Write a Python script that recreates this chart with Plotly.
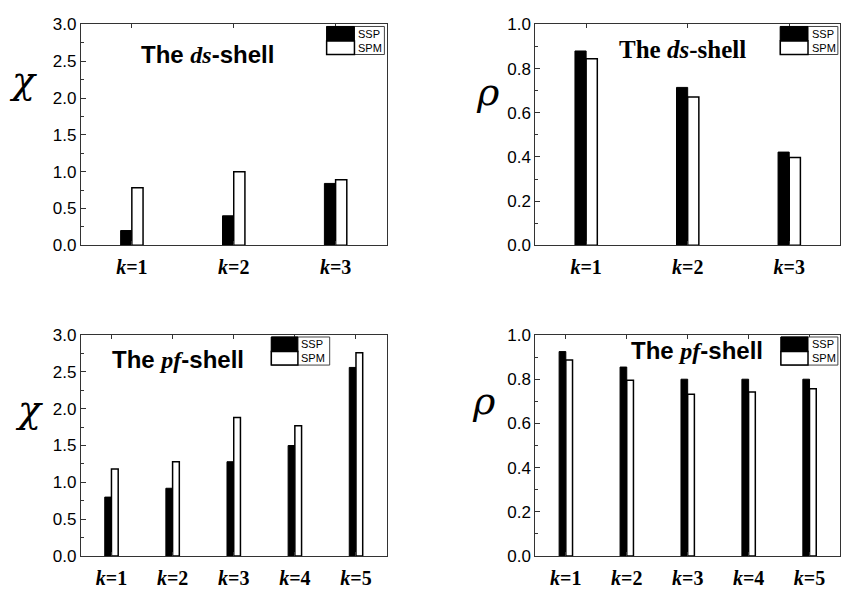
import plotly.graph_objects as go

# ---------------- data ----------------
series_names = ["SSP", "SPM"]
cats_ds = ["k=1", "k=2", "k=3"]
cats_pf = ["k=1", "k=2", "k=3", "k=4", "k=5"]
ticktext_ds = ["<b><i>k</i>=1</b>", "<b><i>k</i>=2</b>", "<b><i>k</i>=3</b>"]
ticktext_pf = ["<b><i>k</i>=1</b>", "<b><i>k</i>=2</b>", "<b><i>k</i>=3</b>",
               "<b><i>k</i>=4</b>", "<b><i>k</i>=5</b>"]

chi_ds_ssp = [0.20, 0.40, 0.84]
chi_ds_spm = [0.78, 1.00, 0.89]
rho_ds_ssp = [0.88, 0.715, 0.422]
rho_ds_spm = [0.845, 0.672, 0.398]
chi_pf_ssp = [0.80, 0.92, 1.28, 1.50, 2.56]
chi_pf_spm = [1.18, 1.28, 1.88, 1.77, 2.76]
rho_pf_ssp = [0.925, 0.855, 0.80, 0.80, 0.80]
rho_pf_spm = [0.887, 0.795, 0.732, 0.742, 0.757]

SANS = "Liberation Sans, Arial, sans-serif"
SERIF = "Liberation Serif, Times New Roman, serif"
GREEK = "DejaVu Serif, Liberation Serif, serif"
AX = "#333333"

fig = go.Figure()

panels = [
    ("", cats_ds, ticktext_ds, chi_ds_ssp, chi_ds_spm, [81/841, 387/841], [1-244/598, 1-16/598], [0, 3], 0.5, 0.25),
    ("2", cats_ds, ticktext_ds, rho_ds_ssp, rho_ds_spm, [536/841, 1.0], [1-244/598, 1-16/598], [0, 1], 0.2, 0.1),
    ("3", cats_pf, ticktext_pf, chi_pf_ssp, chi_pf_spm, [81/841, 387/841], [1-565/598, 1-336.7/598], [0, 3], 0.5, 0.25),
    ("4", cats_pf, ticktext_pf, rho_pf_ssp, rho_pf_spm, [536/841, 1.0], [1-565/598, 1-336.7/598], [0, 1], 0.2, 0.1),
]

layout = {}
for suf, cats, ttext, ssp, spm, dx, dy, yr, dt, mn in panels:
    xa = "x" + suf
    ya = "y" + suf
    fig.add_trace(go.Bar(x=cats, y=ssp, name=series_names[0], xaxis=xa, yaxis=ya,
                         marker=dict(color="black", line=dict(color="black", width=1)),
                         showlegend=False))
    fig.add_trace(go.Bar(x=cats, y=spm, name=series_names[1], xaxis=xa, yaxis=ya,
                         marker=dict(color="white", line=dict(color="black", width=1.5)),
                         showlegend=False))
    layout["xaxis" + suf] = dict(
        domain=dx, anchor=ya, type="category", categoryorder="array", categoryarray=cats,
        tickmode="array", tickvals=cats, ticktext=ttext,
        showline=True, linecolor=AX, linewidth=1, mirror="ticks",
        ticks="inside", ticklen=4, tickcolor=AX, showgrid=False, zeroline=False,
        tickfont=dict(family=SERIF, size=20, color="black"), ticklabelstandoff=4,
        fixedrange=True,
    )
    layout["yaxis" + suf] = dict(
        domain=dy, anchor=xa, range=yr, dtick=dt, tick0=0, tickformat=".1f",
        showline=True, linecolor=AX, linewidth=1, mirror=True,
        ticks="inside", ticklen=5, tickcolor=AX, showgrid=False, zeroline=False,
        minor=dict(dtick=mn, tick0=0, ticks="inside", ticklen=3, tickcolor=AX, showgrid=False),
        tickfont=dict(family=SANS, size=17, color="black"),
        fixedrange=True,
    )

fig.update_layout(**layout)

# ---------------- in-plot legends, titles, axis symbols ----------------
annotations = []
shapes = []

def add_legend(suf, x0, xs, x1, y0=0.864, ym=0.925, y1=0.991):
    xr = ("x" + suf) + " domain"
    yr_ = ("y" + suf) + " domain"
    shapes.append(dict(type="rect", xref=xr, yref=yr_, x0=x0, x1=x1, y0=y0, y1=y1,
                       line=dict(color="#444", width=1), fillcolor="white", layer="above"))
    shapes.append(dict(type="rect", xref=xr, yref=yr_, x0=x0, x1=xs, y0=ym, y1=y1,
                       line=dict(color="black", width=1), fillcolor="black", layer="above"))
    shapes.append(dict(type="rect", xref=xr, yref=yr_, x0=x0, x1=xs, y0=y0, y1=ym,
                       line=dict(color="black", width=1.5), fillcolor="white", layer="above"))
    for name, yc in zip(series_names, [(ym + y1) / 2, (y0 + ym) / 2]):
        annotations.append(dict(xref=xr, yref=yr_, x=xs + 0.005, y=yc, text=name,
                                showarrow=False, xanchor="left", yanchor="middle",
                                font=dict(family=SANS, size=11, color="black")))

add_legend("", 0.804, 0.895, 0.993)
add_legend("2", 0.804, 0.895, 0.993)
add_legend("3", 0.623, 0.710, 0.814)
add_legend("4", 0.806, 0.895, 0.993)

serif_span = "<span style='font-family:Liberation Serif, Times New Roman, serif'><i>{}</i></span>"
titles = [
    ("", 0.415, 0.864, "<b>The " + serif_span.format("ds") + "-shell</b>", SANS, 24),
    ("2", 0.484, 0.886, "<b>The <i>ds</i>-shell</b>", SERIF, 25),
    ("3", 0.317, 0.890, "<b>The " + serif_span.format("pf") + "-shell</b>", SANS, 24),
    ("4", 0.529, 0.928, "<b>The " + serif_span.format("pf") + "-shell</b>", SANS, 24),
]
for suf, x, y, txt, fam, sz in titles:
    annotations.append(dict(xref="x" + suf + " domain", yref="y" + suf + " domain", x=x, y=y,
                            text=txt, showarrow=False, xanchor="center", yanchor="middle",
                            font=dict(family=fam, size=sz, color="black")))

symbols = [
    ("", -0.19, 0.75, "χ"),
    ("2", -0.157, 0.695, "ρ"),
    ("3", -0.17, 0.665, "χ"),
    ("4", -0.167, 0.70, "ρ"),
]
for suf, x, y, s in symbols:
    annotations.append(dict(xref="x" + suf + " domain", yref="y" + suf + " domain", x=x, y=y,
                            text="<i>" + s + "</i>", showarrow=False, xanchor="center",
                            yanchor="middle", font=dict(family=GREEK, size=38, color="black")))

fig.update_layout(
    width=841, height=598,
    margin=dict(l=0, r=0, t=0, b=0),
    paper_bgcolor="white", plot_bgcolor="white",
    barmode="group", bargap=0.78, bargroupgap=0,
    showlegend=False,
    annotations=annotations, shapes=shapes,
)

fig.write_html(
    "out.html",
    config={"displayModeBar": False, "staticPlot": True},
    post_script="document.body.style.margin='0';document.body.style.padding='0';"
                "document.documentElement.style.overflow='hidden';",
)
